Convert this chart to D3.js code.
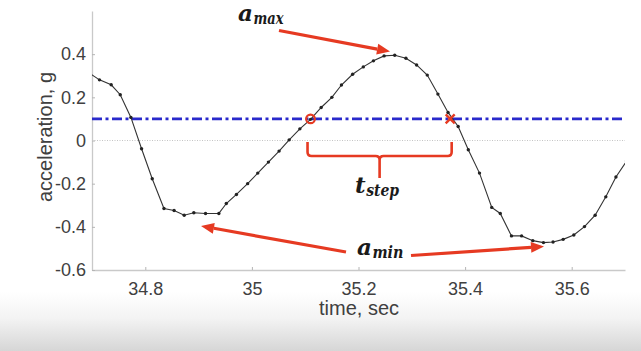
<!DOCTYPE html>
<html>
<head>
<meta charset="utf-8">
<script src="https://cdn.jsdelivr.net/npm/d3@7/dist/d3.min.js"></script>
<style>
  html, body { margin: 0; padding: 0; background: #fff; }
  svg { display: block; }
</style>
</head>
<body>
<svg id="chart" width="641" height="351"></svg>
<script>
// ---- data ----
const times = [34.694, 34.714, 34.736, 34.753, 34.773, 34.793, 34.813, 34.835, 34.854, 34.873,
  34.891, 34.913, 34.938, 34.952, 34.971, 34.992, 35.011, 35.031, 35.051, 35.070,
  35.090, 35.110, 35.130, 35.150, 35.168, 35.189, 35.209, 35.228, 35.248, 35.268,
  35.289, 35.309, 35.329, 35.349, 35.368, 35.387, 35.406, 35.427, 35.450, 35.466,
  35.487, 35.506, 35.527, 35.547, 35.565, 35.584, 35.604, 35.624, 35.644, 35.664,
  35.683, 35.703];
const accel = [0.314, 0.281, 0.258, 0.212, 0.107, -0.038, -0.177, -0.315, -0.324, -0.346,
  -0.335, -0.338, -0.338, -0.292, -0.250, -0.200, -0.151, -0.100, -0.049, 0.003,
  0.054, 0.098, 0.153, 0.200, 0.257, 0.307, 0.341, 0.369, 0.392, 0.395,
  0.381, 0.350, 0.303, 0.215, 0.130, 0.065, -0.043, -0.151, -0.310, -0.338,
  -0.442, -0.442, -0.464, -0.473, -0.470, -0.458, -0.438, -0.399, -0.346, -0.261,
  -0.169, -0.095];
const threshold = 0.1;
const crossUp = 35.110;     // circle marker
const crossDown = 35.372;   // x marker
const xTicks = [34.8, 35.0, 35.2, 35.4, 35.6];
const xTickLabels = ["34.8", "35", "35.2", "35.4", "35.6"];
const yTicks = [-0.6, -0.4, -0.2, 0, 0.2, 0.4];
const yTickLabels = ["-0.6", "-0.4", "-0.2", "0", "0.2", "0.4"];
const xDomain = [34.7, 35.7];
const yDomain = [-0.6, 0.6];

// ---- layout ----
const svg = d3.select("#chart");
const W = 641, H = 351;
const pL = 92, pR = 625, pT = 11, pB = 270;
const x = d3.scaleLinear().domain(xDomain).range([pL, pR]);
const y = d3.scaleLinear().domain(yDomain).range([pB, pT]);
const red = "#e63a22";
const blue = "#2a2acb";

// bottom video-frame gradient
const defs = svg.append("defs");
const grad = defs.append("linearGradient").attr("id", "bg").attr("x1", 0).attr("y1", 0).attr("x2", 0).attr("y2", 1);
grad.append("stop").attr("offset", "0%").attr("stop-color", "#ffffff");
grad.append("stop").attr("offset", "45%").attr("stop-color", "#f3f3f3");
grad.append("stop").attr("offset", "100%").attr("stop-color", "#d6d6d6");
svg.append("rect").attr("x", 0).attr("y", 292).attr("width", W).attr("height", H - 292).attr("fill", "url(#bg)");

defs.append("clipPath").attr("id", "clip").append("rect")
  .attr("x", pL).attr("y", pT).attr("width", pR - pL).attr("height", pB - pT);

// axes
const axisFont = "'Liberation Sans', Arial, sans-serif";
const gx = svg.append("g").attr("transform", `translate(0,${pB})`)
  .call(d3.axisBottom(x).tickValues(xTicks).tickFormat((d, i) => xTickLabels[i]).tickSizeInner(-3).tickSizeOuter(0).tickPadding(12));
const gy = svg.append("g").attr("transform", `translate(${pL},0)`)
  .call(d3.axisLeft(y).tickValues(yTicks).tickFormat((d, i) => yTickLabels[i]).tickSizeInner(-3).tickSizeOuter(0).tickPadding(6));
[gx, gy].forEach(g => {
  g.select(".domain").attr("stroke", "#c9c9c9").attr("stroke-width", 1.3);
  g.selectAll(".tick line").attr("stroke", "#b5b5b5");
  g.selectAll(".tick text").attr("fill", "#404040").style("font-family", axisFont).style("font-size", "18px");
});

// axis titles
svg.append("text").attr("x", 359).attr("y", 315).attr("text-anchor", "middle")
  .style("font-family", axisFont).style("font-size", "20px").attr("fill", "#404040").text("time, sec");
svg.append("text").attr("transform", "translate(52,137) rotate(-90)").attr("text-anchor", "middle")
  .style("font-family", axisFont).style("font-size", "20px").attr("fill", "#404040").text("acceleration, g");

const plot = svg.append("g").attr("clip-path", "url(#clip)");

// zero line
plot.append("line").attr("x1", pL).attr("x2", pR).attr("y1", y(0)).attr("y2", y(0))
  .attr("stroke", "#c4c4c4").attr("stroke-width", 1).attr("stroke-dasharray", "1,1.5");

// threshold line
plot.append("line").attr("x1", pL).attr("x2", pR).attr("y1", y(threshold)).attr("y2", y(threshold))
  .attr("stroke", blue).attr("stroke-width", 2.6).attr("stroke-dasharray", "10,3.5,3,3.5");

// data line and points
const pts = times.map((t, i) => [t, accel[i]]);
plot.append("path").datum(pts)
  .attr("d", d3.line().x(d => x(d[0])).y(d => y(d[1])))
  .attr("fill", "none").attr("stroke", "#333").attr("stroke-width", 1.1);
plot.selectAll("circle.pt").data(pts).join("circle").attr("class", "pt")
  .attr("cx", d => x(d[0])).attr("cy", d => y(d[1])).attr("r", 1.7).attr("fill", "#222");

// crossing markers
svg.append("circle").attr("cx", x(crossUp)).attr("cy", y(threshold)).attr("r", 4.3)
  .attr("fill", "none").attr("stroke", red).attr("stroke-width", 2.2);
const cx2 = x(crossDown), cy2 = y(threshold), s = 4.5;
svg.append("path").attr("d", `M${cx2 - s},${cy2 - s}L${cx2 + s},${cy2 + s}M${cx2 - s},${cy2 + s}L${cx2 + s},${cy2 - s}`)
  .attr("stroke", red).attr("stroke-width", 2.4).attr("fill", "none");

// arrows
function arrow(x1, y1, x2, y2) {
  const ang = Math.atan2(y2 - y1, x2 - x1);
  const L = 13, Wd = 5.5;
  const bx = x2 - L * Math.cos(ang), by = y2 - L * Math.sin(ang);
  svg.append("line").attr("x1", x1).attr("y1", y1).attr("x2", bx).attr("y2", by)
    .attr("stroke", red).attr("stroke-width", 3.2);
  const px = -Math.sin(ang) * Wd, py = Math.cos(ang) * Wd;
  svg.append("path").attr("d", `M${x2},${y2}L${bx + px},${by + py}L${bx - px},${by - py}Z`).attr("fill", red);
}
arrow(279, 30.5, 390, 51.5);
arrow(346, 252, 201, 226);
arrow(411, 255.5, 544, 246.5);

// brace for t_step
const bx1 = x(crossUp) - 3, bx2 = x(crossDown) + 1.5, bTop = 142, bY = 156, mid = (bx1 + bx2) / 2, rr = 4;
svg.append("path")
  .attr("d", `M${bx1},${bTop}V${bY - rr}Q${bx1},${bY} ${bx1 + rr},${bY}H${mid - rr}Q${mid},${bY} ${mid},${bY + rr}V178` +
             `M${bx2},${bTop}V${bY - rr}Q${bx2},${bY} ${bx2 - rr},${bY}H${mid + rr}Q${mid},${bY} ${mid},${bY + rr}`)
  .attr("fill", "none").attr("stroke", red).attr("stroke-width", 2.6);

// annotation labels
const serif = "'DejaVu Serif', serif";
function label(xp, yp, main, sub, subLen) {
  const m = svg.append("text").attr("x", xp).attr("y", yp)
    .style("font-family", serif).style("font-weight", "bold").style("font-style", "italic").attr("fill", "#1a1a1a")
    .style("font-size", "23px").text(main);
  const w = m.node().getComputedTextLength();
  svg.append("text").attr("x", xp + w + 0.5).attr("y", yp + 3)
    .style("font-family", serif).style("font-weight", "bold").style("font-style", "italic").attr("fill", "#1a1a1a")
    .style("font-size", "16px").attr("textLength", subLen).attr("lengthAdjust", "spacingAndGlyphs").text(sub);
}
label(238, 20.5, "a", "max", 30);
label(355, 192.5, "t", "step", 33);
label(357, 255, "a", "min", 31);
</script>
</body>
</html>
